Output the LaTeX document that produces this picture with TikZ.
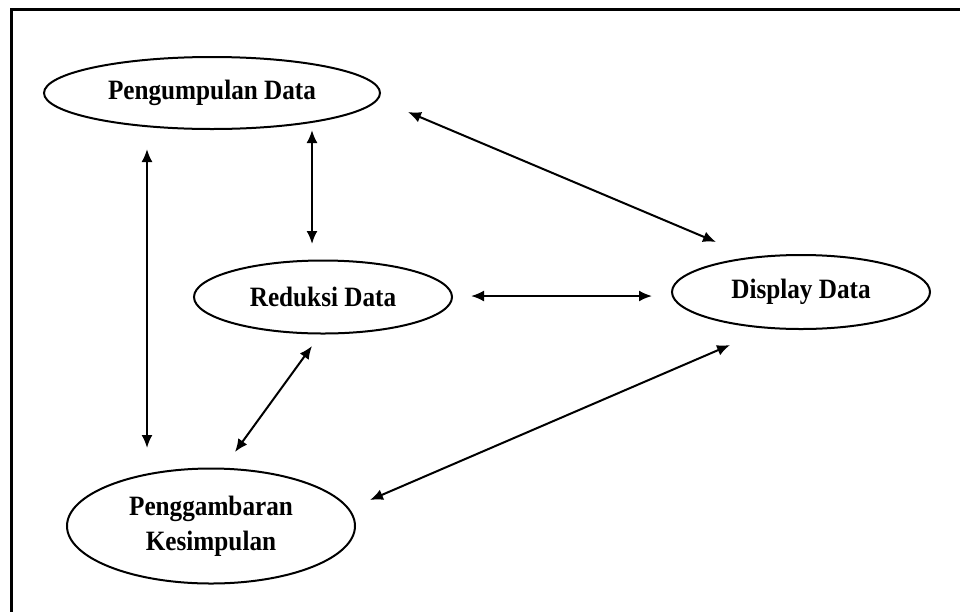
\documentclass[tikz,border=0pt]{standalone}
\usepackage{fontspec}
\setmainfont{Liberation Serif}
\usetikzlibrary{shapes.geometric,arrows.meta}
\newcommand\condtxt[1]{\scalebox{0.9}[1]{#1}}
\begin{document}
\begin{tikzpicture}[x=1pt,y=-1pt,
  oval/.style={ellipse,draw,line width=2pt,inner sep=0pt,align=center,
    font=\fontsize{28}{35}\selectfont\bfseries},
  link/.style={line width=2pt,{Latex[length=13pt,width=11pt]}-{Latex[length=13pt,width=11pt]}}]
\useasboundingbox (0,0) rectangle (960,611);
\begin{scope}
\clip (0,0) rectangle (960,611);
\draw[line width=3.5pt] (11.5,9.5) rectangle (990,640);
\end{scope}
\node[oval,minimum width=336pt,minimum height=72pt] (pd) at (212,93) {\condtxt{Pengumpulan Data}};
\node[oval,minimum width=258pt,minimum height=73pt] (rd) at (323,297) {\condtxt{Reduksi Data}};
\node[oval,minimum width=258pt,minimum height=74pt] (dd) at (801,292) {\condtxt{Display Data}};
\node[oval,minimum width=288pt,minimum height=115pt] (pk) at (211,526) {\condtxt{Penggambaran}\\\condtxt{Kesimpulan}};
\coordinate (a1) at (147,149);
\coordinate (a2) at (147,448);
\coordinate (b1) at (312,130);
\coordinate (b2) at (312,244);
\coordinate (c1) at (408,112);
\coordinate (c2) at (716,242);
\coordinate (d1) at (471,296);
\coordinate (d2) at (652,296);
\coordinate (e1) at (312,346);
\coordinate (e2) at (235,452);
\coordinate (f1) at (730,345);
\coordinate (f2) at (370,500);
\draw[link] (a1) -- (a2);
\draw[link] (b1) -- (b2);
\draw[link] (c1) -- (c2);
\draw[link] (d1) -- (d2);
\draw[link] (e1) -- (e2);
\draw[link] (f1) -- (f2);
\end{tikzpicture}
\end{document}
